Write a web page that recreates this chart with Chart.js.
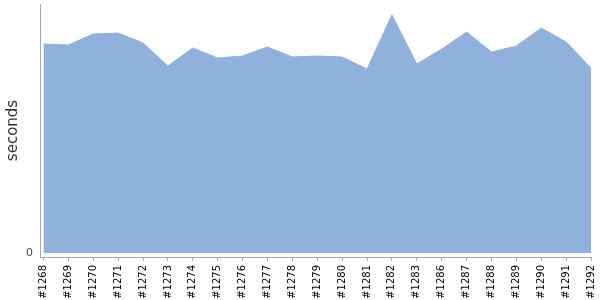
<!DOCTYPE html>
<html>
<head>
<meta charset="utf-8">
<script src="https://cdn.jsdelivr.net/npm/chart.js@4/dist/chart.umd.min.js"></script>
<style>
  html, body { margin: 0; padding: 0; background: #fff; }
  #wrap { width: 600px; height: 300px; }
</style>
</head>
<body>
<div id="wrap"><canvas id="buildChart"></canvas></div>
<script>
const builds = ['#1268', '#1269', '#1270', '#1271', '#1272', '#1273', '#1274', '#1275', '#1276', '#1277', '#1278', '#1279',
  '#1280', '#1281', '#1282', '#1283', '#1286', '#1287', '#1288', '#1289', '#1290', '#1291', '#1292'];
const seconds = [209, 208, 219, 220, 210, 187, 205, 195, 197, 206, 196, 197,
  196, 184, 238, 189, 204, 221, 201, 207, 225, 211, 185];
const yTicks = [0];

Chart.defaults.font.family = 'DejaVu Sans';
Chart.defaults.animation = false;

// keep the plot area where the axes are, ignore label overhang padding
const noPad = s => { s.paddingTop = 0; s.paddingBottom = 0; s.paddingLeft = 0; s.paddingRight = 0; };

new Chart(document.getElementById('buildChart'), {
  type: 'line',
  data: {
    datasets: [{
      label: 'seconds',
      data: seconds.map((v, i) => ({ x: i, y: v })),
      fill: 'origin',
      backgroundColor: '#8fb1db',
      borderColor: '#8fb1db',
      borderWidth: 1,
      pointRadius: 0,
      tension: 0
    }]
  },
  options: {
    responsive: true,
    maintainAspectRatio: false,
    layout: { padding: { top: 4, right: 9, bottom: 0, left: 0 } },
    plugins: { legend: { display: false }, tooltip: { enabled: false } },
    scales: {
      x: {
        type: 'linear',
        min: -0.14,
        max: builds.length - 1,
        afterBuildTicks: s => { s.ticks = builds.map((_, i) => ({ value: i })); },
        afterFit: s => { s.height = 43; noPad(s); },
        border: { color: '#aaa' },
        grid: { drawOnChartArea: false, drawTicks: true, tickLength: 4, color: '#aaa' },
        ticks: {
          autoSkip: false,
          minRotation: 90,
          maxRotation: 90,
          padding: 4,
          color: '#000',
          font: { size: 10 },
          callback: v => builds[v] || ''
        }
      },
      y: {
        min: -4,
        max: 249,
        afterBuildTicks: s => { s.ticks = yTicks.map(v => ({ value: v })); },
        afterFit: s => { s.width = 40; noPad(s); },
        border: { color: '#aaa' },
        grid: { display: false, drawTicks: false },
        ticks: { padding: 7, color: '#444', font: { size: 11 } },
        title: { display: true, text: 'seconds', color: '#333', font: { size: 15 }, padding: { top: 4, bottom: 4 } }
      }
    }
  }
});
</script>
</body>
</html>
